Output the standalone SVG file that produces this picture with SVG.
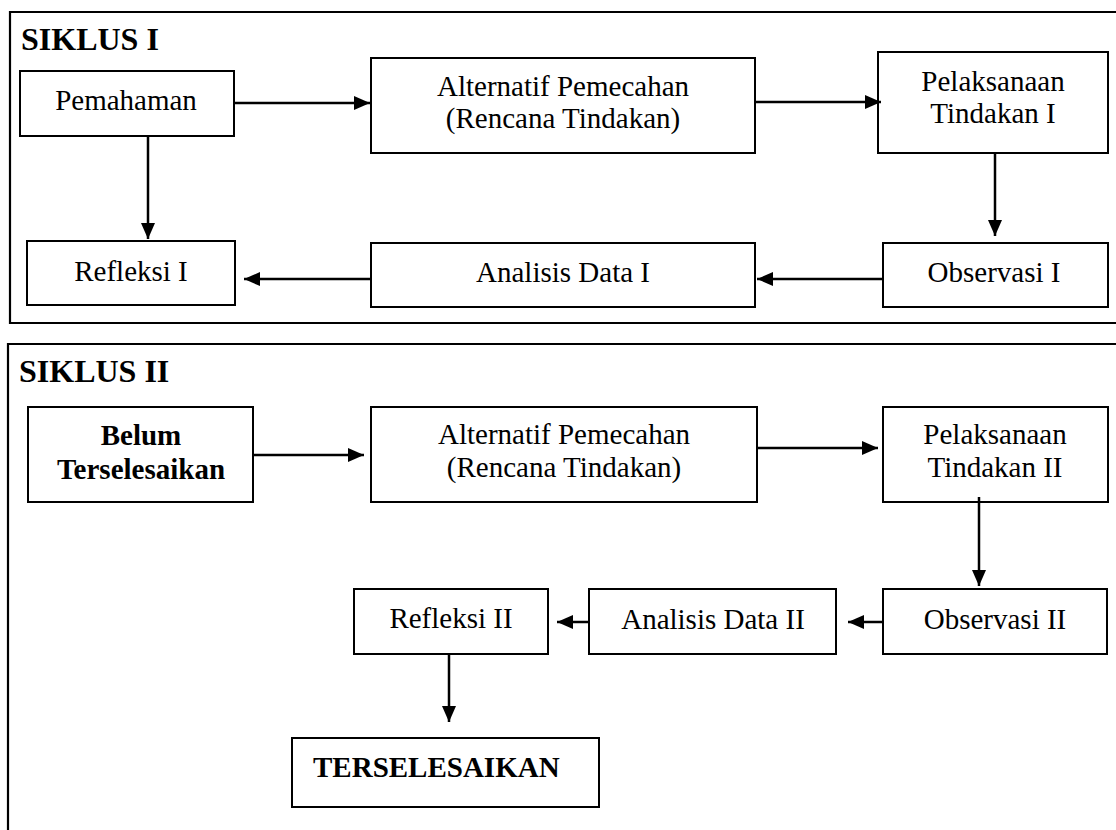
<svg xmlns="http://www.w3.org/2000/svg" width="1116" height="830" viewBox="0 0 1116 830">
<defs>
<style>
.frame{fill:none;stroke:#000;stroke-width:2.2}
.box{fill:#fff;stroke:#000;stroke-width:2}
.t{font-family:"Liberation Serif","Times New Roman",serif;font-size:29px;fill:#000;text-anchor:middle}
.b{font-weight:bold}
.title{font-family:"Liberation Serif","Times New Roman",serif;font-size:32px;font-weight:bold;fill:#000}
.conn line{stroke:#000;stroke-width:2.5;marker-end:url(#ah)}
</style>
<marker id="ah" markerUnits="userSpaceOnUse" markerWidth="16" markerHeight="14" refX="16" refY="7" orient="auto">
<path d="M0,0 L16,7 L0,14 Z" fill="#000"/>
</marker>
</defs>
<rect width="1116" height="830" fill="#fff"/>
<g id="frame1">
<path class="frame" d="M1118,12 H10 V323 H1118"/>
<text class="title" x="21" y="50">SIKLUS I</text>
</g>
<g id="frame2">
<path class="frame" d="M1118,344 H8 V832"/>
<text class="title" x="19" y="382">SIKLUS II</text>
</g>
<g id="n-pemahaman"><rect class="box" x="20" y="71" width="214" height="65"/><text class="t" x="126" y="110">Pemahaman</text></g>
<g id="n-alt1"><rect class="box" x="371" y="58" width="384" height="95"/><text class="t" x="563" y="96">Alternatif Pemecahan</text><text class="t" x="563" y="128">(Rencana Tindakan)</text></g>
<g id="n-pel1"><rect class="box" x="878" y="52" width="230" height="101"/><text class="t" x="993" y="91">Pelaksanaan</text><text class="t" x="993" y="123">Tindakan I</text></g>
<g id="n-ref1"><rect class="box" x="27" y="241" width="208" height="64"/><text class="t" x="131" y="281">Refleksi I</text></g>
<g id="n-ana1"><rect class="box" x="371" y="243" width="384" height="64"/><text class="t" x="563" y="282">Analisis Data I</text></g>
<g id="n-obs1"><rect class="box" x="883" y="243" width="225" height="64"/><text class="t" x="994" y="282">Observasi I</text></g>
<g id="n-belum"><rect class="box" x="28" y="407" width="225" height="95"/><text class="t b" x="141" y="445">Belum</text><text class="t b" x="141" y="479">Terselesaikan</text></g>
<g id="n-alt2"><rect class="box" x="371" y="407" width="386" height="95"/><text class="t" x="564" y="444">Alternatif Pemecahan</text><text class="t" x="564" y="477">(Rencana Tindakan)</text></g>
<g id="n-pel2"><rect class="box" x="883" y="407" width="225" height="95"/><text class="t" x="995" y="444">Pelaksanaan</text><text class="t" x="995" y="477">Tindakan II</text></g>
<g id="n-obs2"><rect class="box" x="883" y="589" width="224" height="65"/><text class="t" x="995" y="629">Observasi II</text></g>
<g id="n-ana2"><rect class="box" x="589" y="589" width="247" height="65"/><text class="t" x="713" y="629">Analisis Data II</text></g>
<g id="n-ref2"><rect class="box" x="354" y="589" width="194" height="65"/><text class="t" x="451" y="628">Refleksi II</text></g>
<g id="n-selesai"><rect class="box" x="292" y="738" width="307" height="69"/><text class="t b" x="313" y="777" style="text-anchor:start">TERSELESAIKAN</text></g>
<g id="connectors" class="conn">
<line x1="234" y1="103" x2="370" y2="103"/>
<line x1="755" y1="102" x2="881" y2="102"/>
<line x1="148" y1="136" x2="148" y2="239"/>
<line x1="995" y1="153" x2="995" y2="236"/>
<line x1="883" y1="279" x2="757" y2="279"/>
<line x1="371" y1="279" x2="244" y2="279"/>
<line x1="253" y1="455" x2="364" y2="455"/>
<line x1="757" y1="448" x2="878" y2="448"/>
<line x1="979" y1="497" x2="979" y2="586"/>
<line x1="882" y1="622" x2="848" y2="622"/>
<line x1="588" y1="622" x2="557" y2="622"/>
<line x1="449" y1="654" x2="449" y2="722"/>
</g>
</svg>
